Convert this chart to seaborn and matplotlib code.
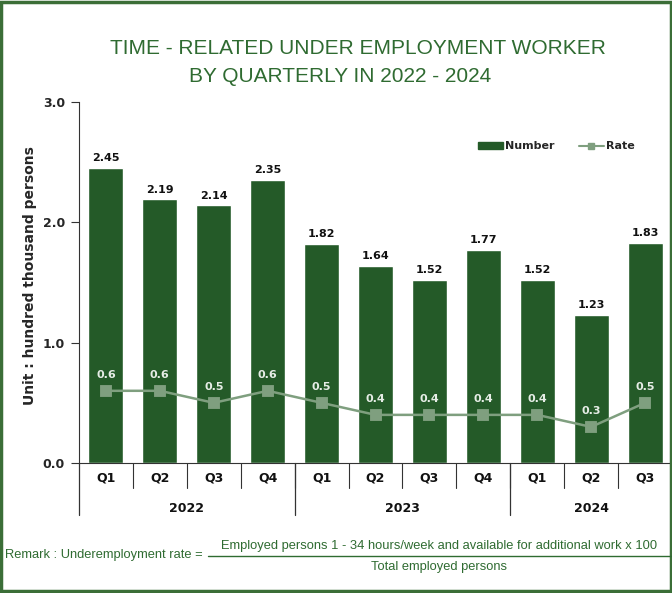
import matplotlib
matplotlib.use("Agg")
import matplotlib.pyplot as plt
import seaborn as sns
import pandas as pd
from matplotlib.lines import Line2D
from matplotlib.patches import Patch

years = ["2022", "2023", "2024"]
quarters = ["Q1", "Q2", "Q3", "Q4", "Q1", "Q2", "Q3", "Q4", "Q1", "Q2", "Q3"]
period_year = ["2022"] * 4 + ["2023"] * 4 + ["2024"] * 3
number = [2.45, 2.19, 2.14, 2.35, 1.82, 1.64, 1.52, 1.77, 1.52, 1.23, 1.83]
rate = [0.6, 0.6, 0.5, 0.6, 0.5, 0.4, 0.4, 0.4, 0.4, 0.3, 0.5]
yticks = [0.0, 1.0, 2.0, 3.0]

periods = [f"{y} {q}" for y, q in zip(period_year, quarters)]
df = pd.DataFrame({"period": periods, "number": number, "rate": rate})

BAR = "#245a28"
LINE = "#7f9f7f"
TXT_G = "#2f6b31"

sns.set_theme(style="white")
plt.rcParams["font.family"] = ["DejaVu Sans"]

fig = plt.figure(figsize=(6.72, 5.93), dpi=100)
ax = fig.add_axes([79 / 672, 1 - 463 / 593, 593 / 672, (463 - 102) / 593])

sns.barplot(data=df, x="period", y="number", color=BAR, width=0.65,
            saturation=1, ax=ax, zorder=2)
sns.pointplot(data=df, x="period", y="rate", color=LINE, markers="s",
              ax=ax, markersize=6.5, linewidth=1.8, zorder=3)

ax.set_xlim(-0.5, len(periods) - 0.5)
ax.set_ylim(0, 3)
ax.set_yticks(yticks)
ax.set_yticklabels([f"{v:.1f}" for v in yticks], fontsize=9, fontweight="bold")
ax.tick_params(axis="y", direction="out", length=6, width=0.8, color="#333333", pad=4, left=True)
ax.set_xticks([])
ax.set_xlabel("")
ax.set_ylabel("Unit : hundred thousand persons", fontsize=10, fontweight="bold", labelpad=6)
ax.yaxis.set_label_coords(-30 / 593 - 0.02, 0.52)

for s in ["top", "right"]:
    ax.spines[s].set_visible(False)
ax.spines["left"].set_color("#333333")
ax.spines["left"].set_linewidth(0.8)
ax.spines["bottom"].set_color("#333333")
ax.spines["bottom"].set_linewidth(0.8)

# value labels
for i, (n, r) in enumerate(zip(number, rate)):
    ax.text(i, n + 0.04, f"{n:.2f}", ha="center", va="bottom", fontsize=8,
            fontweight="bold", color="#111111", zorder=4)
    ax.text(i, r + 0.09, f"{r:.1f}", ha="center", va="bottom", fontsize=8,
            fontweight="bold", color="#e6ede6", zorder=4)

# category axis (two-level)
trans = ax.get_xaxis_transform()
px = 1 / ((463 - 102))
q_y = -15 * px
y_y = -45 * px
for i, q in enumerate(quarters):
    ax.text(i, q_y, q, transform=trans, ha="center", va="center",
            fontsize=9, fontweight="bold", color="#111111")
for i in range(len(quarters) - 1):
    ax.plot([i + 0.5, i + 0.5], [0, -25 * px], transform=trans, color="#333333",
            lw=0.8, clip_on=False)
bounds = [-0.5]
for y in years:
    bounds.append(bounds[-1] + period_year.count(y))
for b in bounds:
    ax.plot([b, b], [0, -52 * px], transform=trans, color="#333333", lw=0.9,
            clip_on=False)
for k, y in enumerate(years):
    ax.text((bounds[k] + bounds[k + 1]) / 2, y_y, y, transform=trans,
            ha="center", va="center", fontsize=9, fontweight="bold", color="#111111")

# legend
handles = [Patch(facecolor=BAR, edgecolor=BAR),
           Line2D([0], [0], color=LINE, marker="s", markersize=5, lw=1.5)]
ax.legend(handles, ["Number", "Rate"], loc="upper left",
          bbox_to_anchor=(395 / 593, 1 - (145 - 102 - 8) / 361), ncol=2, frameon=False,
          prop={"size": 8, "weight": "bold"}, handlelength=2.2, handletextpad=0.2,
          columnspacing=2.2, borderaxespad=0)

# title
fig.text(358 / 672, 1 - 48 / 593, "TIME - RELATED UNDER EMPLOYMENT WORKER",
         ha="center", va="center", fontsize=15, color=TXT_G,
         family=["Liberation Sans"])
fig.text(340 / 672, 1 - 77 / 593, "BY QUARTERLY IN 2022 - 2024",
         ha="center", va="center", fontsize=15, color=TXT_G,
         family=["Liberation Sans"])

# remark
fig.text(5 / 672, 1 - 555 / 593, "Remark : Underemployment rate =", ha="left",
         va="center", fontsize=9.3, color=TXT_G, family=["Liberation Sans"])
fig.add_artist(Line2D([208 / 672, 1.0], [1 - 556 / 593, 1 - 556 / 593],
                      transform=fig.transFigure, color=TXT_G, lw=1.0))
fig.text(439 / 672, 1 - 546 / 593,
         "Employed persons 1 - 34 hours/week and available for additional work x 100",
         ha="center", va="center", fontsize=9.3, color=TXT_G, family=["Liberation Sans"])
fig.text(439 / 672, 1 - 567 / 593, "Total employed persons", ha="center",
         va="center", fontsize=9.3, color=TXT_G, family=["Liberation Sans"])

# frame
fig.add_artist(plt.Rectangle((0.002, 0.003), 0.996, 0.994, transform=fig.transFigure,
                             fill=False, edgecolor="#3b6e37", lw=2.5))

fig.savefig("out.png", dpi=100)
